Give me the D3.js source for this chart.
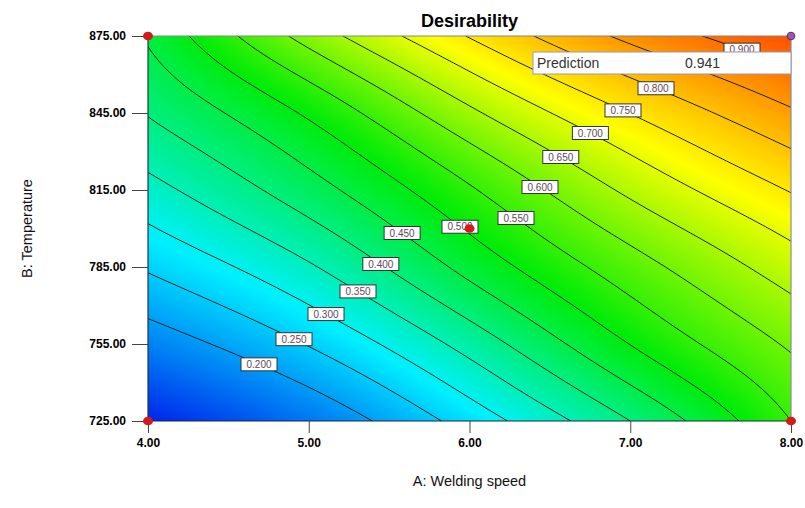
<!DOCTYPE html>
<html>
<head>
<meta charset="utf-8">
<script src="https://cdn.jsdelivr.net/npm/d3@7"></script>
<style>
  html, body { margin: 0; padding: 0; background: #fff; }
  svg { display: block; font-family: "Liberation Sans", Arial, sans-serif; }
</style>
</head>
<body>
<svg id="chart" width="805" height="508"></svg>
<script>
// ---- Data -------------------------------------------------------------
// Factor levels of the response-surface grid
const speedLevels = [4, 5, 6, 7, 8];                 // A: Welding speed
const tempLevels  = [725, 755, 785, 815, 845, 875];  // B: Temperature

// Desirability: one row per temperature level, one column per speed level
const desirability = [
  [0.070, 0.158, 0.271, 0.400, 0.550],  // 725
  [0.170, 0.253, 0.369, 0.501, 0.607],  // 755
  [0.256, 0.344, 0.466, 0.578, 0.675],  // 785
  [0.333, 0.429, 0.544, 0.660, 0.753],  // 815
  [0.403, 0.508, 0.640, 0.751, 0.843],  // 845
  [0.457, 0.619, 0.753, 0.862, 0.941]   // 875
];

// Contour levels drawn as iso-lines
const contourLevels = [0.20, 0.25, 0.30, 0.35, 0.40, 0.45, 0.50, 0.55,
                       0.60, 0.65, 0.70, 0.75, 0.80, 0.85, 0.90];

// Axis ticks
const xTickValues = [4, 5, 6, 7, 8];
const yTickValues = [725, 755, 785, 815, 845, 875];

// Design points (speed, temperature) and the prediction flag
const designPoints = [[4, 725], [8, 725], [4, 875], [6, 800]];
const predictionPoint = [8, 875];

// Where each contour label sits (speed, temperature)
const labelAnchors = [
  [0.20, 4.703, 748.4], [0.25, 4.908, 757.0], [0.30, 5.107, 766.3],
  [0.35, 5.306, 775.6], [0.40, 5.449, 786.2], [0.45, 5.568, 797.1],
  [0.50, 5.941, 801.0], [0.55, 6.296, 804.5], [0.60, 6.439, 815.8],
  [0.65, 6.563, 827.5], [0.70, 6.750, 836.8], [0.75, 6.955, 846.2],
  [0.80, 7.166, 855.5], [0.90, 7.708, 871.9]
];

// ---- Layout -----------------------------------------------------------
const svg = d3.select("#chart");
const x = d3.scaleLinear().domain([4, 8]).range([148, 791]);
const y = d3.scaleLinear().domain([725, 875]).range([421, 36]);
const [x0, x1] = x.range();
const [y0, y1] = [y(875), y(725)];

// ---- Smooth surface from the grid (natural cubic splines) -------------
function naturalSpline(xs, ys) {
  const n = xs.length, h = [], alpha = [], l = [1], mu = [0], z = [0];
  const b = [], c = new Array(n).fill(0), d = [];
  for (let i = 0; i < n - 1; i++) h[i] = xs[i + 1] - xs[i];
  for (let i = 1; i < n - 1; i++)
    alpha[i] = 3 / h[i] * (ys[i + 1] - ys[i]) - 3 / h[i - 1] * (ys[i] - ys[i - 1]);
  for (let i = 1; i < n - 1; i++) {
    l[i] = 2 * (xs[i + 1] - xs[i - 1]) - h[i - 1] * mu[i - 1];
    mu[i] = h[i] / l[i];
    z[i] = (alpha[i] - h[i - 1] * z[i - 1]) / l[i];
  }
  for (let j = n - 2; j >= 0; j--) {
    c[j] = z[j] - mu[j] * c[j + 1];
    b[j] = (ys[j + 1] - ys[j]) / h[j] - h[j] * (c[j + 1] + 2 * c[j]) / 3;
    d[j] = (c[j + 1] - c[j]) / (3 * h[j]);
  }
  return t => {
    const j = Math.max(0, Math.min(n - 2, d3.bisectRight(xs, t) - 1));
    const u = t - xs[j];
    return ys[j] + b[j] * u + c[j] * u * u + d[j] * u * u * u;
  };
}

const nx = Math.round(x1 - x0) + 1;
const ny = Math.round(y1 - y0) + 1;
const aAt = d3.scaleLinear().domain([0, nx - 1]).range([4, 8]);     // column -> speed
const bAt = d3.scaleLinear().domain([0, ny - 1]).range([875, 725]); // row -> temperature

const rowCurves = desirability.map(row => {
  const f = naturalSpline(speedLevels, row);
  return d3.range(nx).map(i => f(aAt(i)));
});
const values = new Float64Array(nx * ny);
for (let i = 0; i < nx; i++) {
  const f = naturalSpline(tempLevels, rowCurves.map(r => r[i]));
  for (let j = 0; j < ny; j++) values[j * nx + i] = f(bAt(j));
}

// ---- Colour fill ------------------------------------------------------
const lo = d3.min(values), hi = d3.max(values);
const color = d3.scaleLinear()
  .domain(d3.range(5).map(k => lo + k * (hi - lo) / 4))
  .range(["#0024ec", "#00f0ff", "#00ec08", "#ffff00", "#ff5000"])
  .interpolate(d3.interpolateRgb)
  .clamp(true);
const lut = d3.range(1024).map(k => d3.rgb(color(lo + (hi - lo) * k / 1023)));

const canvas = document.createElement("canvas");
canvas.width = nx; canvas.height = ny;
const ctx = canvas.getContext("2d");
const img = ctx.createImageData(nx, ny);
for (let p = 0; p < nx * ny; p++) {
  const c = lut[Math.max(0, Math.min(1023, Math.round((values[p] - lo) / (hi - lo) * 1023)))];
  img.data[4 * p] = c.r; img.data[4 * p + 1] = c.g; img.data[4 * p + 2] = c.b; img.data[4 * p + 3] = 255;
}
ctx.putImageData(img, 0, 0);

svg.append("rect").attr("width", 805).attr("height", 508).attr("fill", "#fff");

svg.append("defs").append("clipPath").attr("id", "plotClip")
  .append("rect").attr("x", x0).attr("y", y0).attr("width", x1 - x0).attr("height", y1 - y0);

svg.append("image")
  .attr("x", x0).attr("y", y0)
  .attr("width", x1 - x0).attr("height", y1 - y0)
  .attr("preserveAspectRatio", "none")
  .attr("href", canvas.toDataURL());

// ---- Contour lines ------------------------------------------------------
const contours = d3.contours().size([nx, ny]).thresholds(contourLevels)(values);
const px = c => x(4 + (c - 0.5) * 4 / (nx - 1));
const py = c => y(875 - (c - 0.5) * 150 / (ny - 1));
const onEdge = p => p[0] <= 0 || p[0] >= nx || p[1] <= 0 || p[1] >= ny;

function openRuns(ring) {
  const pts = ring.slice(0, -1);
  const k = pts.findIndex(onEdge);
  if (k < 0) return [ring];
  const rot = pts.slice(k).concat(pts.slice(0, k));
  const runs = [];
  let cur = [];
  for (const p of rot) {
    if (onEdge(p)) { if (cur.length > 1) runs.push(cur); cur = []; }
    else cur.push(p);
  }
  if (cur.length > 1) runs.push(cur);
  return runs;
}

const isoLines = contours.map(c => ({
  value: c.value,
  runs: c.coordinates.flatMap(poly => poly.flatMap(openRuns))
    .map(run => run.map(p => [px(p[0]), py(p[1])]))
}));

const line = d3.line();
svg.append("g").attr("clip-path", "url(#plotClip)")
  .selectAll("path")
  .data(isoLines.flatMap(d => d.runs))
  .join("path")
  .attr("d", line)
  .attr("fill", "none")
  .attr("stroke", "#15200f")
  .attr("stroke-width", 1);

// ---- Frame --------------------------------------------------------------
const frame = svg.append("g").attr("fill", "none").attr("stroke-width", 1.2);
frame.append("line").attr("x1", x0).attr("x2", x1).attr("y1", y0).attr("y2", y0).attr("stroke", "#7f8c80");
frame.append("line").attr("x1", x1).attr("x2", x1).attr("y1", y0).attr("y2", y1).attr("stroke", "#8c8a96");
frame.append("line").attr("x1", x0).attr("x2", x0).attr("y1", y0).attr("y2", y1).attr("stroke", "#26343a");
frame.append("line").attr("x1", x0).attr("x2", x1).attr("y1", y1).attr("y2", y1).attr("stroke", "#1c2838");

// ---- Axes ---------------------------------------------------------------
const yAxis = svg.append("g").attr("transform", `translate(${x0},0)`)
  .call(d3.axisLeft(y).tickValues(yTickValues).tickFormat(d3.format(".2f")).tickSize(16).tickPadding(6));
const xAxis = svg.append("g").attr("transform", `translate(0,${y1})`)
  .call(d3.axisBottom(x).tickValues(xTickValues).tickFormat(d3.format(".2f")).tickSize(12).tickPadding(5));
[xAxis, yAxis].forEach(g => {
  g.select(".domain").remove();
  g.selectAll(".tick line").attr("stroke", "#444");
  g.selectAll(".tick text").attr("fill", "#000")
    .style("font-family", "'Liberation Sans Narrow', 'Liberation Sans', Arial, sans-serif")
    .style("font-weight", "bold").style("font-size", "12px");
});

// ---- Contour labels -------------------------------------------------------
const fmt3 = d3.format(".3f");
const labels = svg.append("g");
labelAnchors.forEach(([level, a, b]) => {
  const iso = isoLines.find(d => Math.abs(d.value - level) < 1e-9);
  if (!iso) return;
  const tx = x(a), ty = y(b);
  let best = null, bd = Infinity;
  iso.runs.forEach(run => run.forEach(p => {
    const dd = (p[0] - tx) ** 2 + (p[1] - ty) ** 2;
    if (dd < bd) { bd = dd; best = p; }
  }));
  const g = labels.append("g").attr("transform", `translate(${best[0]},${best[1]})`);
  g.append("rect").attr("x", -18).attr("y", -6.5).attr("width", 36).attr("height", 13)
    .attr("fill", "#fff").attr("stroke", "#333").attr("stroke-width", 1);
  g.append("text").attr("text-anchor", "middle").attr("dy", "0.36em")
    .attr("font-size", 10).attr("fill", "#5e4858").text(fmt3(level));
});

// ---- Design points ----------------------------------------------------------
svg.append("g").selectAll("ellipse").data(designPoints).join("ellipse")
  .attr("cx", d => x(d[0])).attr("cy", d => y(d[1]))
  .attr("rx", 5).attr("ry", 4.3).attr("fill", "#d41a1a");

svg.append("circle")
  .attr("cx", x(predictionPoint[0])).attr("cy", y(predictionPoint[1])).attr("r", 3.8)
  .attr("fill", "#9a5ab4").attr("stroke", "#5a2a70").attr("stroke-width", 1);

// ---- Prediction box ---------------------------------------------------------
const predValue = desirability[tempLevels.indexOf(predictionPoint[1])][speedLevels.indexOf(predictionPoint[0])];
const pb = svg.append("g");
pb.append("rect").attr("x", 533).attr("y", 52).attr("width", x1 - 533).attr("height", 22)
  .attr("fill", "#fff").attr("stroke", "#9a98b8").attr("stroke-width", 1);
pb.append("text").attr("x", 537).attr("y", 68).attr("font-size", 14).attr("fill", "#333").text("Prediction");
pb.append("text").attr("x", 685).attr("y", 68).attr("font-size", 14).attr("fill", "#333").text(fmt3(predValue));

// ---- Titles -----------------------------------------------------------------
svg.append("text").attr("x", (x0 + x1) / 2).attr("y", 27).attr("text-anchor", "middle")
  .attr("font-size", 18).attr("font-weight", "bold").attr("fill", "#000").text("Desirability");
svg.append("text").attr("x", (x0 + x1) / 2).attr("y", 486).attr("text-anchor", "middle")
  .attr("font-size", 14.5).attr("fill", "#111").text("A: Welding speed");
svg.append("text").attr("transform", `translate(32,${(y0 + y1) / 2}) rotate(-90)`)
  .attr("text-anchor", "middle").attr("font-size", 14.5).attr("fill", "#111").text("B: Temperature");
</script>
</body>
</html>
